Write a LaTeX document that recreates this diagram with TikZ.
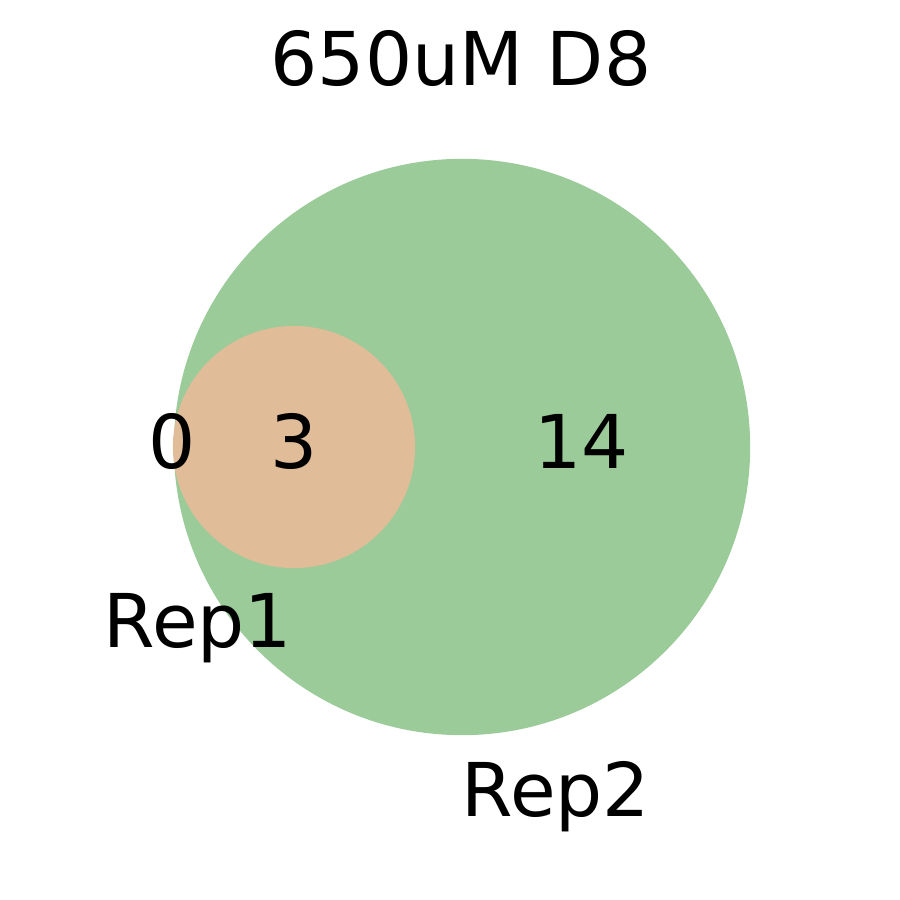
\documentclass[tikz,border=0pt]{standalone}
\usepackage{fontspec}
\setmainfont{DejaVu Sans}
\definecolor{repgreen}{RGB}{154,203,153}
\definecolor{reppeach}{RGB}{224,188,152}
\tikzset{lbl/.style={anchor=base,inner sep=0pt,font=\fontsize{21.1}{25}\selectfont}}
\begin{document}
\begin{tikzpicture}[x=0.01cm,y=-0.01cm]
\fill[white] (0,0) rectangle (900,900);
\useasboundingbox (0,0) rectangle (900,900);
\coordinate (B) at (462,447); \coordinate (A) at (294,447);
\fill[repgreen] (B) circle[radius=2.88cm];
\fill[reppeach] (A) circle[radius=1.21cm];
\foreach \p/\x/\y/\t in {title/461/85/650uM D8,n0/172/468/0,n3/294/468/3,n14/582/468/14,rep1/198/647/Rep1,rep2/556/816/Rep2}{\node[lbl] (\p) at (\x,\y) {\t};}
\end{tikzpicture}
\end{document}
